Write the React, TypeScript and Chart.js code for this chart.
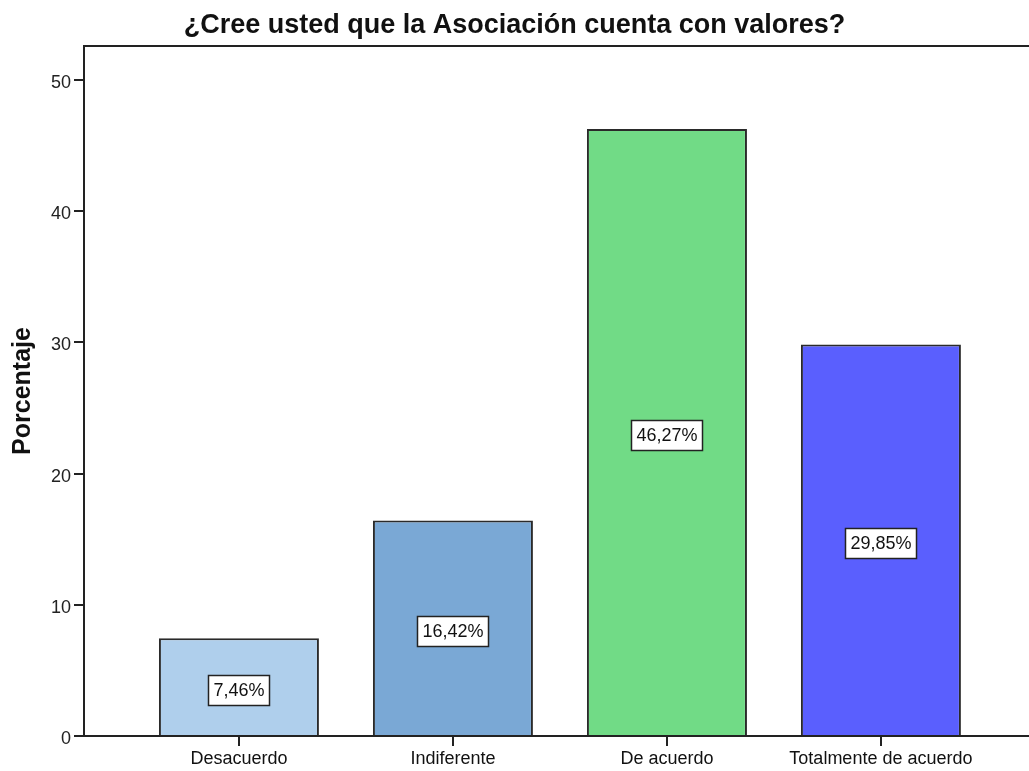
import React, { useEffect, useRef } from 'react';
import { Chart, registerables } from 'chart.js';

Chart.register(...registerables);

const TITLE = '¿Cree usted que la Asociación cuenta con valores?';
const Y_TITLE = 'Porcentaje';
const categories = ['Desacuerdo', 'Indiferente', 'De acuerdo', 'Totalmente de acuerdo'];
const percentages = [7.46, 16.42, 46.27, 29.85];
const barColors = ['#AFCFEC', '#7AA8D5', '#71DB86', '#5A5FFE'];
const yTicks = [0, 10, 20, 30, 40, 50];

const FONT = "'Liberation Sans', Arial, sans-serif";

const frameTop = {
  id: 'frameTop',
  afterDraw(chart: any) {
    const { ctx, chartArea } = chart;
    ctx.save();
    ctx.strokeStyle = '#222';
    ctx.lineWidth = 2;
    ctx.beginPath();
    ctx.moveTo(chartArea.left, chartArea.top);
    ctx.lineTo(chartArea.right, chartArea.top);
    ctx.stroke();
    ctx.restore();
  },
};

const valueLabels = {
  id: 'valueLabels',
  afterDatasetsDraw(chart: any) {
    const meta = chart.getDatasetMeta(0);
    const ctx = chart.ctx;
    ctx.save();
    ctx.font = `18px ${FONT}`;
    ctx.textAlign = 'center';
    ctx.textBaseline = 'middle';
    meta.data.forEach((bar: any, i: number) => {
      const text = percentages[i].toFixed(2).replace('.', ',') + '%';
      const w = Math.round(ctx.measureText(text).width + 10);
      const h = 30;
      const cx = bar.x;
      const cy = (bar.y + bar.base) / 2 + 3;
      const x0 = Math.round(cx - w / 2) + 0.5;
      const y0 = Math.round(cy - h / 2) + 0.5;
      ctx.fillStyle = '#ffffff';
      ctx.fillRect(x0, y0, w, h);
      ctx.strokeStyle = '#222';
      ctx.lineWidth = 1.5;
      ctx.strokeRect(x0, y0, w, h);
      ctx.fillStyle = '#111';
      ctx.fillText(text, cx, cy + 1);
    });
    ctx.restore();
  },
};

export default function App() {
  const ref = useRef<HTMLCanvasElement | null>(null);

  useEffect(() => {
    document.body.style.margin = '0';
    const canvas = ref.current;
    if (!canvas) return;
    const chart = new Chart(canvas, {
      type: 'bar',
      data: {
        datasets: [
          {
            data: percentages.map((v, i) => ({ x: i, y: v })),
            backgroundColor: barColors,
            borderColor: '#2a2a2a',
            borderWidth: 2,
            categoryPercentage: 160 / 214,
            barPercentage: 1,
          },
        ],
      },
      options: {
        responsive: false,
        animation: false,
        events: [],
        layout: { padding: 0 },
        plugins: {
          legend: { display: false },
          tooltip: { enabled: false },
          title: {
            display: true,
            text: TITLE,
            color: '#111',
            font: { family: FONT, size: 27, weight: 'bold', lineHeight: 1.2 },
            padding: { top: 9, bottom: 4.6 },
          },
        },
        scales: {
          x: {
            type: 'linear',
            offset: false,
            min: -0.724,
            max: 3.692,
            afterFit(scale: any) {
              scale.height = 35;
            },
            afterBuildTicks(scale: any) {
              scale.ticks = categories.map((_, i) => ({ value: i }));
            },
            ticks: {
              autoSkip: false,
              maxRotation: 0,
              padding: 2,
              color: '#111',
              font: { family: FONT, size: 18 },
              callback: (v: any) => categories[v as number] ?? '',
            },
            grid: {
              offset: false,
              drawOnChartArea: false,
              drawTicks: true,
              tickLength: 10,
              color: '#222',
              lineWidth: 2,
            },
            border: { display: true, color: '#222', width: 2 },
          },
          y: {
            type: 'linear',
            min: 0,
            max: 52.6,
            afterFit(scale: any) {
              scale.width = 84;
            },
            afterBuildTicks(scale: any) {
              scale.ticks = yTicks.map((v) => ({ value: v }));
            },
            ticks: {
              padding: 3,
              labelOffset: 3,
              color: '#222',
              font: { family: FONT, size: 18 },
            },
            grid: {
              drawOnChartArea: false,
              drawTicks: true,
              tickLength: 10,
              color: '#222',
              lineWidth: 2,
            },
            border: { display: true, color: '#222', width: 2 },
            title: {
              display: true,
              text: Y_TITLE,
              color: '#111',
              font: { family: FONT, size: 25, weight: 'bold', lineHeight: 1.2 },
              padding: { top: 8, bottom: 0 },
            },
          },
        },
      },
      plugins: [frameTop, valueLabels],
    });
    return () => chart.destroy();
  }, []);

  return (
    <div style={{ position: 'absolute', left: 0, top: 0, width: 1029, height: 771 }}>
      <canvas ref={ref} width={1029} height={771} />
    </div>
  );
}
